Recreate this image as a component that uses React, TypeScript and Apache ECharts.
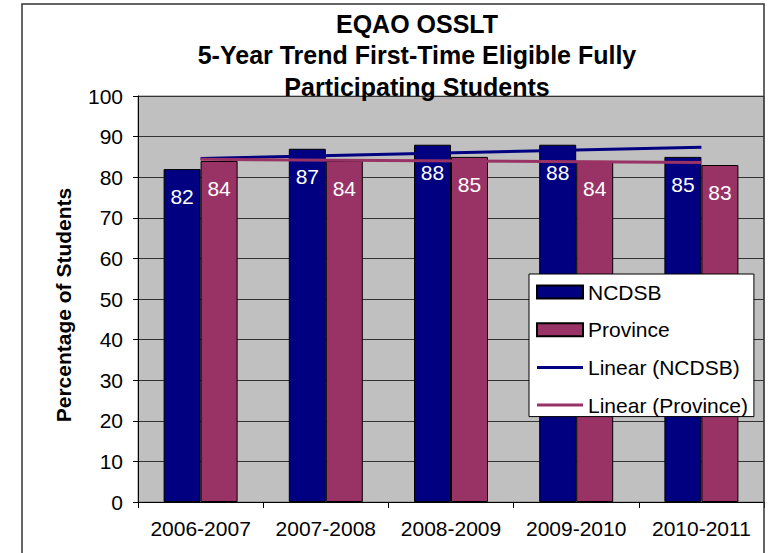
import React, { useEffect, useRef } from "react";
import * as echarts from "echarts";

const categories = ["2006-2007", "2007-2008", "2008-2009", "2009-2010", "2010-2011"];
const ncdsb = [82, 87, 88, 88, 85];
const province = [84, 84, 85, 84, 83];
// trend line end points (first and last category)
const trendNcdsb = [84.6, null, null, null, 87.4];
const trendProvince = [84.4, null, null, null, 83.6];
const titleLines = ["EQAO OSSLT", "5-Year Trend First-Time Eligible Fully", "Participating Students"];
const yAxisTitle = "Percentage of Students";

const FONT = "'Liberation Sans', Arial, sans-serif";
const NAVY = "#000080";
const MAROON = "#993366";
const LINE_ICON = "path://M0 0H46V3H0Z";
const TITLE_Y = [23.5, 55, 86.5];

export default function App() {
  const ref = useRef<HTMLDivElement>(null);
  useEffect(() => {
    if (!ref.current) return;
    const chart = echarts.init(ref.current, null, { renderer: "svg" });
    const label = {
      show: true,
      position: "insideTop",
      distance: 17,
      color: "#fff",
      fontSize: 21,
      fontFamily: FONT,
    };
    chart.setOption({
      animation: false,
      backgroundColor: "#fff",
      textStyle: { fontFamily: FONT },
      graphic: [
        {
          type: "rect",
          shape: { x: 22, y: 4, width: 742, height: 600 },
          style: { fill: "none", stroke: "#333", lineWidth: 1.5 },
          z: 100,
        },
        ...titleLines.map((t, i) => ({
          type: "text",
          x: 417,
          y: TITLE_Y[i],
          z: 50,
          style: {
            text: t,
            fontSize: 25,
            fontWeight: "bold",
            fontFamily: FONT,
            fill: "#000",
            align: "center",
            verticalAlign: "middle",
          },
        })),
        {
          type: "text",
          x: 63,
          y: 305,
          rotation: Math.PI / 2,
          style: {
            text: yAxisTitle,
            fontSize: 21,
            fontWeight: "bold",
            fontFamily: FONT,
            fill: "#000",
            align: "center",
            verticalAlign: "middle",
          },
        },
      ],
      grid: {
        left: 138,
        top: 96,
        width: 626,
        height: 406,
        show: true,
        backgroundColor: "#C0C0C0",
        borderColor: "#808080",
        borderWidth: 1,
      },
      legend: {
        left: 529,
        top: 274,
        orient: "vertical",
        backgroundColor: "#fff",
        borderColor: "#000",
        borderWidth: 1,
        padding: [7.5, 6, 1, 7],
        itemWidth: 46,
        itemHeight: 13,
        itemGap: 16.7,
        textStyle: { fontSize: 21, color: "#000", fontFamily: FONT, lineHeight: 20 },
        data: [
          { name: "NCDSB", icon: "rect" },
          { name: "Province", icon: "rect" },
          { name: "Linear (NCDSB)", icon: LINE_ICON },
          { name: "Linear (Province)", icon: LINE_ICON },
        ],
      },
      xAxis: {
        type: "category",
        data: categories,
        axisLine: { show: true, lineStyle: { color: "#000", width: 1 } },
        axisTick: { show: true, length: 6, lineStyle: { color: "#000" } },
        axisLabel: { color: "#000", fontSize: 21, margin: 16, interval: 0, fontFamily: FONT },
      },
      yAxis: {
        type: "value",
        min: 0,
        max: 100,
        interval: 10,
        axisLine: { show: true, lineStyle: { color: "#000", width: 1 } },
        axisTick: { show: true, length: 5, lineStyle: { color: "#000" } },
        axisLabel: { color: "#000", fontSize: 21, margin: 15, fontFamily: FONT },
        splitLine: { show: true, lineStyle: { color: "#333", width: 1 } },
      },
      series: [
        {
          name: "NCDSB",
          type: "bar",
          data: ncdsb,
          barWidth: 37,
          barGap: "0%",
          itemStyle: { color: NAVY, borderColor: "#000", borderWidth: 1 },
          label,
        },
        {
          name: "Province",
          type: "bar",
          data: province,
          barWidth: 37,
          barGap: "0%",
          itemStyle: { color: MAROON, borderColor: "#000", borderWidth: 1 },
          label,
        },
        {
          name: "Linear (NCDSB)",
          type: "line",
          data: trendNcdsb,
          connectNulls: true,
          symbol: "none",
          lineStyle: { color: NAVY, width: 3 },
          itemStyle: { color: NAVY },
          z: 5,
        },
        {
          name: "Linear (Province)",
          type: "line",
          data: trendProvince,
          connectNulls: true,
          symbol: "none",
          lineStyle: { color: MAROON, width: 3 },
          itemStyle: { color: MAROON },
          z: 5,
        },
      ],
    });
    return () => chart.dispose();
  }, []);
  return (
    <div
      ref={ref}
      style={{ position: "fixed", left: 0, top: 0, width: 776, height: 553 }}
    />
  );
}
